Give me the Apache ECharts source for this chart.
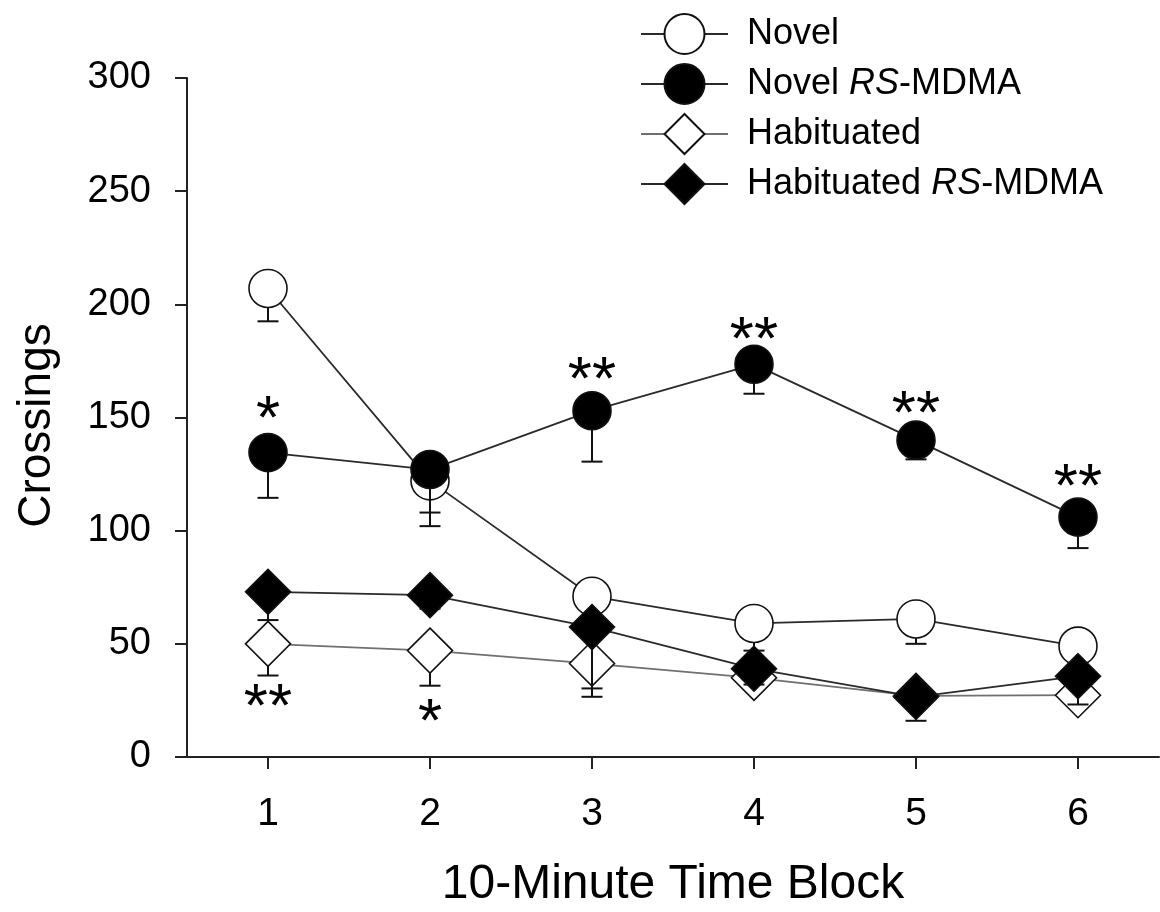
<!DOCTYPE html>
<html><head><meta charset="utf-8">
<script src="https://cdn.jsdelivr.net/npm/echarts@6/dist/echarts.min.js"></script>
<style>html,body{margin:0;padding:0;background:#fff}#c{width:1160px;height:912px}</style>
</head><body><div id="c"></div>
<script>
const categories = ['1', '2', '3', '4', '5', '6'];
const novel = [207, 122, 71, 59, 61, 49];
const novelErr = [14.5, 20, 6, 12, 11, 6];
const novelRS = [134.5, 127, 153, 173.5, 140, 106];
const novelRSErr = [20, 19, 22.5, 13, 8.5, 13.7];
const habituated = [50, 47, 41.3, 35, 27, 27.3];
const habituatedErr = [14, 15.5, 11, 5, 5, 4];
const habituatedRS = [73, 71.5, 57.4, 39, 26.6, 35.7];
const habituatedRSErr = [12.5, 6, 30.8, 7, 10.6, 12.5];
const sigCat = [0, 2, 3, 4, 5, 0, 1];
const sigY = [154.8, 171.9, 189.6, 157, 124.6, 27.5, 20.8];
const sigText = ['*', '**', '**', '**', '**', '**', '*'];
const seriesNames = ['Novel', 'Novel RS-MDMA', 'Habituated', 'Habituated RS-MDMA'];

const FONT = 'Liberation Sans, Arial, sans-serif';
const LINE = '#2a2a2a';

function errSeries(vals, errs, z) {
  return {
    type: 'custom', z: z, silent: true, animation: false,
    data: vals.map((v, i) => [i, v, v - errs[i]]),
    encode: { x: 0, y: [1, 2] },
    renderItem: function (params, api) {
      const x = api.value(0);
      const a = api.coord([x, api.value(1)]);
      const b = api.coord([x, api.value(2)]);
      const hw = 10.5;
      return {
        type: 'group', children: [
          { type: 'line', shape: { x1: a[0], y1: a[1], x2: b[0], y2: b[1] }, style: { stroke: '#111', lineWidth: 2 } },
          { type: 'line', shape: { x1: b[0] - hw, y1: b[1], x2: b[0] + hw, y2: b[1] }, style: { stroke: '#111', lineWidth: 2 } }
        ]
      };
    }
  };
}

function lineSeries(name, data, symbol, size, fill, lineColor, z) {
  return {
    name: name, type: 'line', data: data, z: z,
    symbol: symbol, symbolSize: size, showAllSymbol: true,
    lineStyle: { color: lineColor, width: 1.8 },
    itemStyle: { color: fill, borderColor: '#111', borderWidth: 1.6 },
    emphasis: { disabled: true }, animation: false
  };
}

const chart = echarts.init(document.getElementById('c'), null, { renderer: 'canvas' });
chart.setOption({
  backgroundColor: '#fff',
  animation: false,
  textStyle: { fontFamily: FONT },
  grid: { left: 187, right: 1, top: 78, bottom: 155, containLabel: false, outerBoundsMode: 'none' },
  legend: {
    data: seriesNames,
    orient: 'vertical', left: 635, top: 8,
    itemWidth: 87, itemHeight: 50, itemGap: 8,
    selectedMode: false,
    formatter: function (name) {
      if (name.indexOf(' RS-') >= 0) {
        const base = name.split(' RS-')[0];
        return '{s|}{n|' + base + ' }{i|RS}{n|-MDMA}';
      }
      return '{s|}{n|' + name + '}';
    },
    textStyle: {
      color: '#000', fontFamily: FONT, fontSize: 36,
      rich: {
        s: { width: 14 },
        n: { fontSize: 36, fontFamily: FONT, color: '#000' },
        i: { fontSize: 36, fontFamily: FONT, color: '#000', fontStyle: 'italic' }
      }
    }
  },
  xAxis: {
    type: 'category', data: categories, boundaryGap: true,
    name: '10-Minute Time Block', nameLocation: 'middle', nameGap: 104,
    nameTextStyle: { fontSize: 48, color: '#000', fontFamily: FONT },
    axisLine: { show: true, lineStyle: { color: '#222', width: 2 } },
    axisTick: { show: true, alignWithLabel: true, length: 12, lineStyle: { color: '#222', width: 2 } },
    axisLabel: { fontSize: 39, color: '#000', margin: 38, fontFamily: FONT },
    splitLine: { show: false }
  },
  yAxis: {
    type: 'value', min: 0, max: 300, interval: 50,
    name: 'Crossings', nameLocation: 'middle', nameGap: 127,
    nameTextStyle: { fontSize: 46, color: '#000', fontFamily: FONT, padding: [0, 16, 0, 0] },
    axisLine: { show: true, lineStyle: { color: '#222', width: 2 } },
    axisTick: { show: true, length: 12, lineStyle: { color: '#222', width: 2 } },
    axisLabel: { fontSize: 38, color: '#000', margin: 36, fontFamily: FONT },
    splitLine: { show: false }
  },
  series: [
    errSeries(novel, novelErr, 1),
    lineSeries('Novel', novel, 'circle', 38, '#fff', LINE, 2),
    errSeries(habituated, habituatedErr, 3),
    lineSeries('Habituated', habituated, 'diamond', 45, '#fff', '#707070', 4),
    errSeries(novelRS, novelRSErr, 5),
    lineSeries('Novel RS-MDMA', novelRS, 'circle', 38, '#000', LINE, 6),
    errSeries(habituatedRS, habituatedRSErr, 7),
    lineSeries('Habituated RS-MDMA', habituatedRS, 'diamond', 45, '#000', LINE, 8),
    {
      type: 'scatter', z: 9, silent: true, animation: false,
      symbolSize: 1, itemStyle: { color: 'rgba(0,0,0,0)' },
      data: sigCat.map((c, i) => ({ value: [c, sigY[i]], t: sigText[i] })),
      label: {
        show: true, position: 'inside', offset: [0, 14],
        formatter: function (p) { return p.data.t; },
        fontSize: 62, color: '#000', fontFamily: FONT, opacity: 1
      }
    }
  ]
});
</script></body></html>
